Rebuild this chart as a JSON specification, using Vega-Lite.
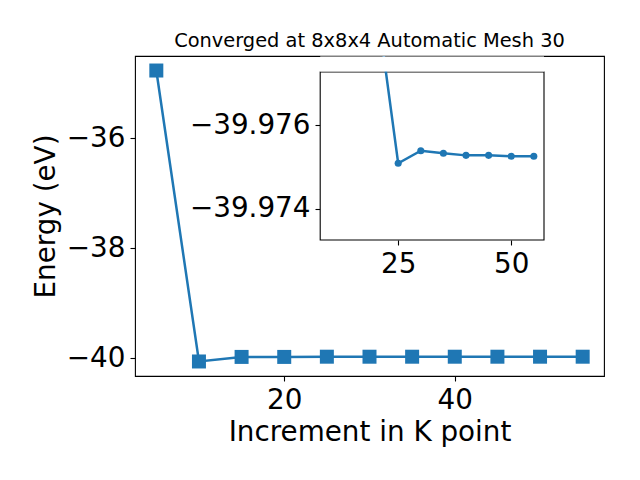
{
  "$schema": "https://vega.github.io/schema/vega-lite/v6.json",
  "width": 469,
  "height": 320,
  "autosize": "none",
  "padding": {"left": 135, "top": 56, "right": 36, "bottom": 104},
  "title": {"text": "Converged at 8x8x4 Automatic Mesh 30", "font": "DejaVu Sans", "fontSize": 19.4, "fontWeight": "normal", "color": "black", "offset": 5, "anchor": "middle", "frame": "group"},
  "config": {
    "view": {"stroke": "black", "strokeWidth": 1.1},
    "axis": {"grid": false, "domain": false, "labelFont": "DejaVu Sans", "titleFont": "DejaVu Sans", "labelFontSize": 27.8, "titleFontSize": 27.8, "labelColor": "black", "titleColor": "black", "titleFontWeight": "normal", "tickColor": "black", "tickSize": 5, "tickWidth": 1.1, "labelPadding": 5, "labelFlush": false, "labelOverlap": false}
  },
  "datasets": {
    "energy": [
      {"k": 5, "energy": -34.772},
      {"k": 10, "energy": -40.062},
      {"k": 15, "energy": -39.979},
      {"k": 20, "energy": -39.9791},
      {"k": 25, "energy": -39.97509},
      {"k": 30, "energy": -39.97539},
      {"k": 35, "energy": -39.97533},
      {"k": 40, "energy": -39.97528},
      {"k": 45, "energy": -39.97528},
      {"k": 50, "energy": -39.97526},
      {"k": 55, "energy": -39.97526}
    ]
  },
  "layer": [
    {
      "data": {"name": "energy"},
      "encoding": {
        "x": {"field": "k", "type": "quantitative", "scale": {"domain": [2.5, 57.5], "nice": false, "zero": false}, "axis": {"values": [20, 40], "title": "Increment in K point", "orient": "bottom", "titlePadding": 5}},
        "y": {"field": "energy", "type": "quantitative", "scale": {"domain": [-40.326, -34.508], "nice": false, "zero": false}, "axis": {"values": [-40, -38, -36], "title": "Energy (eV)", "orient": "left", "titlePadding": 6, "labelExpr": "replace(format(datum.value, 'd'), '-', '\u2212')"}}
      },
      "layer": [
        {"mark": {"type": "line", "color": "#1f77b4", "strokeWidth": 2.5}},
        {"mark": {"type": "point", "shape": "square", "filled": true, "opacity": 1, "size": 196, "color": "#1f77b4"}}
      ]
    },
    {
      "layer": [
        {
          "data": {"values": [{}]},
          "mark": {"type": "rect", "fill": "white", "stroke": "black", "strokeWidth": 1.1},
          "encoding": {
            "x": {"datum": 7.75, "type": "quantitative", "scale": {"domain": [7.75, 57.25], "range": [185.2, 409], "nice": false, "zero": false}, "axis": {"values": [25, 50], "title": null, "orient": "bottom", "offset": -136}},
            "x2": {"datum": 57.25},
            "y": {"datum": -39.97727, "type": "quantitative", "scale": {"domain": [-39.97727, -39.97326], "range": [16, 184], "nice": false, "zero": false}, "axis": {"values": [-39.976, -39.974], "title": null, "orient": "left", "offset": -185, "labelExpr": "replace(format(datum.value, '.3f'), '-', '\u2212')"}},
            "y2": {"datum": -39.97326}
          }
        },
        {
          "data": {"name": "energy"},
          "transform": [{"filter": "datum.k >= 10"}],
          "encoding": {
            "x": {"field": "k", "type": "quantitative"},
            "y": {"field": "energy", "type": "quantitative"}
          },
          "layer": [
            {"mark": {"type": "line", "color": "#1f77b4", "strokeWidth": 2.5, "clip": true}},
            {"mark": {"type": "point", "shape": "circle", "filled": true, "opacity": 1, "size": 50, "color": "#1f77b4", "clip": true}}
          ]
        },
        {
          "data": {"values": [{}]},
          "mark": {"type": "rect", "fill": "white", "strokeWidth": 0},
          "encoding": {
            "x": {"datum": 7.75, "type": "quantitative"},
            "x2": {"datum": 57.25},
            "y": {"datum": -39.977638, "type": "quantitative"},
            "y2": {"datum": -39.977284}
          }
        }
      ]
    }
  ],
  "resolve": {"scale": {"x": "independent", "y": "independent"}, "axis": {"x": "independent", "y": "independent"}}
}
